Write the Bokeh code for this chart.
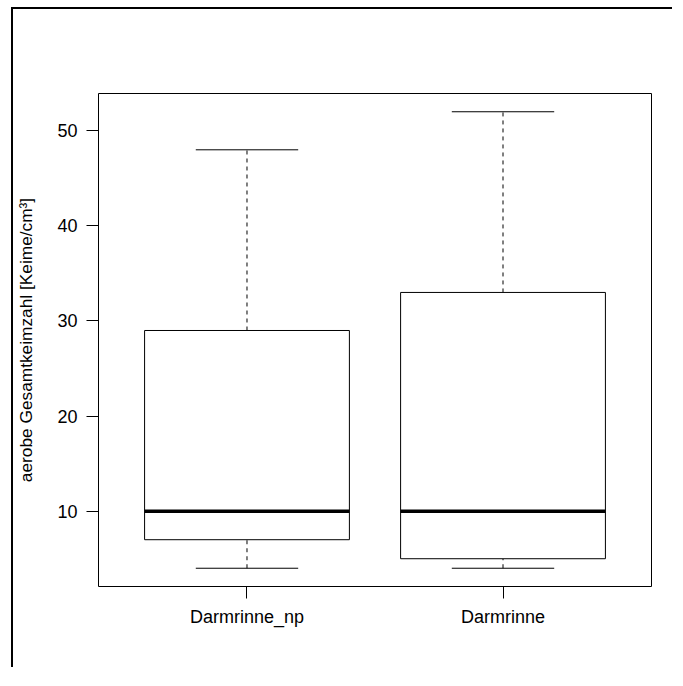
from bokeh.plotting import figure
from bokeh.models import FixedTicker, Range1d, ColumnDataSource
from bokeh.embed import file_html
from bokeh.resources import INLINE

# data
categories = ["Darmrinne_np", "Darmrinne"]
positions = [1, 2]
whisker_low = [4, 4]
q1 = [7, 5]
median = [10, 10]
q3 = [29, 33]
whisker_high = [48, 52]
y_ticks = [10, 20, 30, 40, 50]

box_half = 0.4
cap_half = 0.2

src = ColumnDataSource(dict(
    x=positions,
    lo=whisker_low, q1=q1, med=median, q3=q3, hi=whisker_high,
    bl=[p - box_half for p in positions], br=[p + box_half for p in positions],
    cl=[p - cap_half for p in positions], cr=[p + cap_half for p in positions],
))

W, H = 661, 660
p = figure(width=W, height=H, output_backend="svg", toolbar_location=None,
           x_range=Range1d(0.42, 2.58), y_range=Range1d(2.08, 53.92),
           min_border_left=84, min_border_right=23, min_border_top=84, min_border_bottom=83)
p.styles = {"border-top": "2px solid black", "border-left": "2px solid black",
            "margin-left": "11px", "margin-top": "7px"}
p.background_fill_color = "white"
p.border_fill_color = "white"
p.outline_line_color = "black"
p.outline_line_width = 1
p.xgrid.visible = False
p.ygrid.visible = False

# whiskers (dashed)
p.segment(x0="x", x1="x", y0="q3", y1="hi", source=src, line_color="black", line_width=1, line_dash="4 4")
p.segment(x0="x", x1="x", y0="lo", y1="q1", source=src, line_color="black", line_width=1, line_dash="4 4")
# caps
p.segment(x0="cl", x1="cr", y0="hi", y1="hi", source=src, line_color="black", line_width=1)
p.segment(x0="cl", x1="cr", y0="lo", y1="lo", source=src, line_color="black", line_width=1)
# boxes
p.quad(left="bl", right="br", bottom="q1", top="q3", source=src, fill_color="white", line_color="black", line_width=1)
# medians
p.segment(x0="bl", x1="br", y0="med", y1="med", source=src, line_color="black", line_width=3.5)

font = "Liberation Sans"
for ax in (p.xaxis[0], p.yaxis[0]):
    ax.axis_line_color = None
    ax.major_tick_line_color = "black"
    ax.major_tick_in = 0
    ax.major_tick_out = 12
    ax.minor_tick_line_color = None
    ax.major_label_text_font = font
    ax.major_label_text_font_size = "18px"
    ax.major_label_text_color = "black"

p.xaxis.major_label_standoff = 8
p.yaxis.major_label_standoff = 9
p.xaxis.ticker = FixedTicker(ticks=positions)
p.xaxis.major_label_overrides = {pos: c for pos, c in zip(positions, categories)}
p.yaxis.ticker = FixedTicker(ticks=y_ticks)
p.yaxis.major_label_orientation = "horizontal"
p.yaxis.axis_label = "aerobe Gesamtkeimzahl [Keime/cm³]"
p.yaxis.axis_label_text_font = font
p.yaxis.axis_label_text_font_size = "17.3px"
p.yaxis.axis_label_text_font_style = "normal"
p.yaxis.axis_label_text_color = "black"
p.yaxis.axis_label_standoff = 18

open("out.html", "w").write(file_html(p, INLINE))
